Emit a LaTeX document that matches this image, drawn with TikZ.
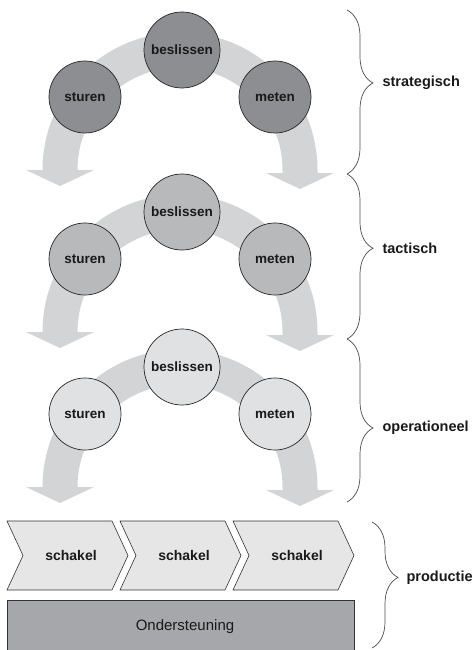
\documentclass[tikz,border=0pt]{standalone}
\usepackage{fontspec}
\setmainfont{Liberation Sans}
\usepackage{tikz}
\usetikzlibrary{calc,decorations.pathreplacing}
\definecolor{bandgray}{HTML}{D3D4D6}
\definecolor{darkfill}{HTML}{8D8E91}
\definecolor{midfill}{HTML}{B8B9BB}
\definecolor{lightfill}{HTML}{E0E1E2}
\definecolor{linkfill}{HTML}{E6E6E7}
\definecolor{basefill}{HTML}{A6A7AA}

\begin{document}
\begin{tikzpicture}[x=1pt, y=-1pt,
	phase/.style={circle, draw=black!85, line width=0.7pt, inner sep=0pt, text=black!90, font=\fontsize{13.5}{16}\selectfont\bfseries},
	level/.style={anchor=west, text=black!90, font=\fontsize{14.5}{17}\selectfont\bfseries},
	levelbrace/.style={draw=black!70, line width=0.7pt, decorate, decoration={brace, amplitude=26pt}},
	link/.style={fill=linkfill, draw=black!80, line width=0.6pt}]
	\useasboundingbox (0,0) rectangle (473,650);
	\foreach \i/\dy/\fc in {1/0/darkfill, 2/162/midfill, 3/317/lightfill} {
		\begin{scope}[yshift=-\dy pt]
			\fill[bandgray] (42.5,170) arc[start angle=180, end angle=360, radius=137.5]
				-- (317.5,173) -- (334,173) -- (300,189) -- (266,173) -- (282.5,173) -- (282.5,170)
				arc[start angle=360, end angle=180, radius=102.5]
				-- (94,170) -- (60,186) -- (26,170) -- cycle;
			\node[phase, fill=\fc, minimum size=76pt] (beslissen\i) at (182,50) {beslissen};
			\node[phase, fill=\fc, minimum size=72pt] (sturen\i) at (85,97) {sturen};
			\node[phase, fill=\fc, minimum size=72pt] (meten\i) at (275,97) {meten};
		\end{scope}
	}
	\foreach \ya/\yb/\asp/\name in {10/174/0.445/strategisch, 174/339/0.45/tactisch, 339/502/0.546/operationeel} {
		\draw[levelbrace, decoration={aspect=\asp}] (347,\ya) -- (347,\yb);
		\node[level] (\name) at (379,{\ya+\asp*(\yb-\ya)}) {\name};
	}
	\foreach \j/\lx in {1/7, 2/120, 3/233} {
		\draw[link] (\lx,521) -- ++(105,0) -- ++(16,34.5) -- ++(-16,34.5) -- ++(-105,0) -- ++(16,-34.5) -- cycle;
		\node[text=black!90, font=\fontsize{14}{17}\selectfont\bfseries] (schakel\j) at (\lx+64,555.5) {schakel};
	}
	\draw[fill=basefill, draw=black!80, line width=0.7pt] (7,600) rectangle (354,656);
	\node[text=black!90, font=\fontsize{15}{18}\selectfont] (ondersteuning) at (185,627) {Ondersteuning};
	\draw[levelbrace, decoration={aspect=0.44}] (372,522) -- (372,648);
	\node[level] (productie) at (403,577.5) {productie};
\end{tikzpicture}
\end{document}
